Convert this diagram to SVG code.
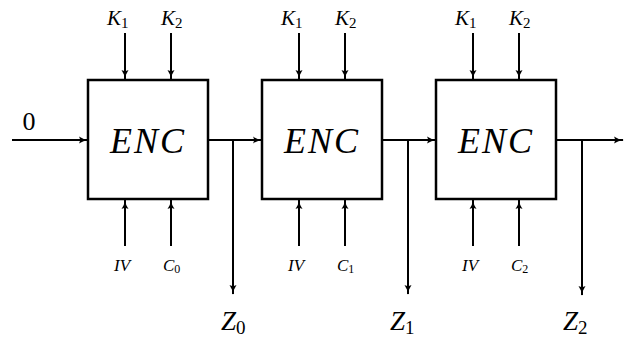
<svg xmlns="http://www.w3.org/2000/svg" width="628" height="338" viewBox="0 0 628 338">
<style>
.box{fill:#fff;stroke:#000;stroke-width:2.5}
.ln{fill:none;stroke:#000;stroke-width:2}
.t{font-style:italic}
.s{font-style:normal}
</style>
<defs>
<marker id="ah" viewBox="0 0 10 8" refX="9" refY="4" markerWidth="5" markerHeight="4" orient="auto" markerUnits="strokeWidth">
<path d="M0,0.5 Q4,3.5 10,4 Q4,4.5 0,7.5 Q2,4 0,0.5Z" fill="#000"/>
</marker>
</defs>
<g id="connectors">
<line class="ln" x1="12" y1="140" x2="88" y2="140" marker-end="url(#ah)"/>
<line class="ln" x1="208" y1="140" x2="262" y2="140" marker-end="url(#ah)"/>
<line class="ln" x1="382" y1="140" x2="436" y2="140" marker-end="url(#ah)"/>
<line class="ln" x1="556" y1="140" x2="623" y2="140" marker-end="url(#ah)"/>
<line class="ln" x1="233" y1="140" x2="233" y2="294" marker-end="url(#ah)"/>
<line class="ln" x1="408" y1="140" x2="408" y2="294" marker-end="url(#ah)"/>
<line class="ln" x1="582" y1="140" x2="582" y2="295" marker-end="url(#ah)"/>
<line class="ln" x1="125" y1="33" x2="125" y2="79" marker-end="url(#ah)"/>
<line class="ln" x1="171" y1="33" x2="171" y2="79" marker-end="url(#ah)"/>
<line class="ln" x1="299" y1="33" x2="299" y2="79" marker-end="url(#ah)"/>
<line class="ln" x1="345" y1="33" x2="345" y2="79" marker-end="url(#ah)"/>
<line class="ln" x1="473" y1="33" x2="473" y2="79" marker-end="url(#ah)"/>
<line class="ln" x1="519" y1="33" x2="519" y2="79" marker-end="url(#ah)"/>
<line class="ln" x1="125" y1="246" x2="125" y2="200" marker-end="url(#ah)"/>
<line class="ln" x1="171" y1="246" x2="171" y2="200" marker-end="url(#ah)"/>
<line class="ln" x1="299" y1="246" x2="299" y2="200" marker-end="url(#ah)"/>
<line class="ln" x1="345" y1="246" x2="345" y2="200" marker-end="url(#ah)"/>
<line class="ln" x1="473" y1="246" x2="473" y2="200" marker-end="url(#ah)"/>
<line class="ln" x1="519" y1="246" x2="519" y2="200" marker-end="url(#ah)"/>
</g>
<g font-family="Liberation Serif, serif" fill="#000">
<g id="enc1">
<rect class="box" x="88" y="80" width="120" height="119"/>
<text class="t" x="148" y="153" font-size="36" text-anchor="middle" letter-spacing="2">ENC</text>
</g>
<g id="enc2">
<rect class="box" x="262" y="80" width="120" height="119"/>
<text class="t" x="322" y="153" font-size="36" text-anchor="middle" letter-spacing="2">ENC</text>
</g>
<g id="enc3">
<rect class="box" x="436" y="80" width="120" height="119"/>
<text class="t" x="496" y="153" font-size="36" text-anchor="middle" letter-spacing="2">ENC</text>
</g>
<g id="labels">
<text x="29" y="130" font-size="26" text-anchor="middle">0</text>
<text class="t" x="107" y="25" font-size="21">K<tspan class="s" font-size="15" dy="3">1</tspan></text>
<text class="t" x="161" y="25" font-size="21">K<tspan class="s" font-size="15" dy="3">2</tspan></text>
<text class="t" x="281" y="25" font-size="21">K<tspan class="s" font-size="15" dy="3">1</tspan></text>
<text class="t" x="335" y="25" font-size="21">K<tspan class="s" font-size="15" dy="3">2</tspan></text>
<text class="t" x="455" y="25" font-size="21">K<tspan class="s" font-size="15" dy="3">1</tspan></text>
<text class="t" x="509" y="25" font-size="21">K<tspan class="s" font-size="15" dy="3">2</tspan></text>
<text class="t" x="122" y="271" font-size="17" text-anchor="middle">IV</text>
<text class="t" x="163" y="271" font-size="17">C<tspan class="s" font-size="12" dy="2">0</tspan></text>
<text class="t" x="296" y="271" font-size="17" text-anchor="middle">IV</text>
<text class="t" x="337" y="271" font-size="17">C<tspan class="s" font-size="12" dy="2">1</tspan></text>
<text class="t" x="470" y="271" font-size="17" text-anchor="middle">IV</text>
<text class="t" x="511" y="271" font-size="17">C<tspan class="s" font-size="12" dy="2">2</tspan></text>
<text class="t" x="221" y="330" font-size="27">Z<tspan class="s" font-size="19" dy="4">0</tspan></text>
<text class="t" x="390" y="330" font-size="27">Z<tspan class="s" font-size="19" dy="4">1</tspan></text>
<text class="t" x="563" y="330" font-size="27">Z<tspan class="s" font-size="19" dy="4">2</tspan></text>
</g>
</g>
</svg>
